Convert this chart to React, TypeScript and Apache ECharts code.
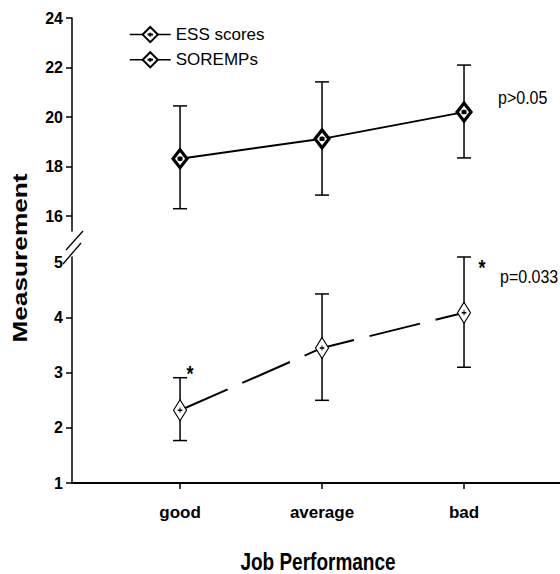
import React, { useEffect, useRef } from 'react';
import * as echarts from 'echarts';

const categories = ['good', 'average', 'bad'];
const categoryPositions = [1, 2, 3];

const essMean = [18.32, 19.12, 20.2];
const essUpper = [20.45, 21.42, 22.1];
const essLower = [16.3, 16.85, 18.35];

const soreMean = [2.32, 3.45, 4.09];
const soreUpper = [2.91, 4.43, 5.1];
const soreLower = [1.77, 2.5, 3.1];

const topTicks = [16, 18, 20, 22, 24];
const bottomTickLabels = [1, 2, 3, 4, 5];
const bottomTicks = [1, 2, 3, 4];

const pTexts = ['p>0.05', 'p=0.033'];

const FONT = '"Liberation Sans", Arial, Helvetica, sans-serif';

const essSymbol = 'path://M0,-10L7,0L0,10L-7,0Z M-2.5,0L2.5,0 M0,-2.5L0,2.5';
const soreSymbol = 'path://M0,-10L7,0L0,10L-7,0Z M-2.5,0L2.5,0 M0,-2.5L0,2.5';

function errorBarRender(params: any, api: any) {
  const x = api.value(0);
  const lo = api.value(1);
  const hi = api.value(2);
  const pLo = api.coord([x, lo]);
  const pHi = api.coord([x, hi]);
  const cap = 7;
  const style = { stroke: '#000', lineWidth: 1.5 };
  return {
    type: 'group',
    children: [
      { type: 'line', shape: { x1: pHi[0], y1: pHi[1], x2: pLo[0], y2: pLo[1] }, style },
      { type: 'line', shape: { x1: pHi[0] - cap, y1: pHi[1], x2: pHi[0] + cap, y2: pHi[1] }, style },
      { type: 'line', shape: { x1: pLo[0] - cap, y1: pLo[1], x2: pLo[0] + cap, y2: pLo[1] }, style },
    ],
  };
}

export default function App() {
  const ref = useRef<HTMLDivElement>(null);
  useEffect(() => {
    if (!ref.current) return;
    const chart = echarts.init(ref.current, undefined, { renderer: 'svg' });
    const xMin = 0.239;
    const xMax = 3.676;
    const yLabelStyle = { color: '#000', fontFamily: FONT, fontSize: 16, fontWeight: 'bold' as const, margin: 9 };
    const option: any = {
      animation: false,
      backgroundColor: '#fff',
      grid: [
        { left: 72, right: 0, top: 18, height: 213 },
        { left: 72, right: 0, top: 257, height: 226 },
      ],
      xAxis: [
        { type: 'value', gridIndex: 0, min: xMin, max: xMax, show: false },
        {
          type: 'value', gridIndex: 1, min: xMin, max: xMax,
          splitLine: { show: false },
          axisLine: { show: true, lineStyle: { color: '#000', width: 2 } },
          axisTick: { show: true, customValues: categoryPositions, length: 6, lineStyle: { color: '#000', width: 1.5 } },
          axisLabel: {
            customValues: categoryPositions,
            formatter: (v: number) => categories[Math.round(v) - 1] ?? '',
            color: '#000', fontFamily: FONT, fontSize: 17, fontWeight: 'bold', margin: 21,
          },
        },
      ],
      yAxis: [
        {
          type: 'value', gridIndex: 0, min: 15.4, max: 24,
          splitLine: { show: false },
          axisLine: { show: true, lineStyle: { color: '#000', width: 1.5 } },
          axisTick: { show: true, customValues: topTicks, length: 6, lineStyle: { color: '#000', width: 1.5 } },
          axisLabel: { ...yLabelStyle, customValues: topTicks },
        },
        {
          type: 'value', gridIndex: 1, min: 1, max: 5.1,
          splitLine: { show: false },
          axisLine: { show: true, lineStyle: { color: '#000', width: 1.5 } },
          axisTick: { show: true, customValues: bottomTicks, length: 6, lineStyle: { color: '#000', width: 1.5 } },
          axisLabel: { ...yLabelStyle, customValues: bottomTickLabels },
        },
      ],
      legend: {
        orient: 'vertical', left: 124, top: 21, itemWidth: 41, itemHeight: 19, itemGap: 8,
        data: ['ESS scores', 'SOREMPs'],
        textStyle: { color: '#000', fontFamily: FONT, fontSize: 17 },
        lineStyle: { type: 'solid', width: 1.5 },
      },
      series: [
        {
          type: 'custom', name: 'essErr', xAxisIndex: 0, yAxisIndex: 0, z: 1,
          renderItem: errorBarRender,
          encode: { x: 0, y: [1, 2] },
          data: categoryPositions.map((x, i) => [x, essLower[i], essUpper[i]]),
        },
        {
          type: 'custom', name: 'soreErr', xAxisIndex: 1, yAxisIndex: 1, z: 1,
          renderItem: errorBarRender,
          encode: { x: 0, y: [1, 2] },
          data: categoryPositions.map((x, i) => [x, soreLower[i], soreUpper[i]]),
        },
        {
          type: 'line', name: 'ESS scores', xAxisIndex: 0, yAxisIndex: 0, z: 3,
          data: categoryPositions.map((x, i) => [x, essMean[i]]),
          symbol: essSymbol, symbolSize: [14, 18],
          lineStyle: { color: '#000', width: 2 },
          itemStyle: { color: '#fff', borderColor: '#000', borderWidth: 3.2 },
        },
        {
          type: 'line', name: 'SOREMPs', xAxisIndex: 1, yAxisIndex: 1, z: 3,
          data: categoryPositions.map((x, i) => [x, soreMean[i]]),
          symbol: soreSymbol, symbolSize: [13, 21],
          lineStyle: { color: '#000', width: 2, type: [52, 16] },
          itemStyle: { color: '#fff', borderColor: '#000', borderWidth: 1.2 },
        },
      ],
      graphic: [
        {
          type: 'text', x: 19, y: 258, rotation: Math.PI / 2, scaleX: 1.25,
          style: { text: 'Measurement', font: `bold 21px ${FONT}`, fill: '#000', align: 'center', verticalAlign: 'middle' },
        },
        {
          type: 'text', x: 318, y: 562, scaleY: 1.25,
          style: { text: 'Job Performance', font: `bold 19px ${FONT}`, fill: '#000', align: 'center', verticalAlign: 'middle' },
        },
        { type: 'line', shape: { x1: 83, y1: 231, x2: 66, y2: 250 }, style: { stroke: '#000', lineWidth: 1.3 } },
        { type: 'line', shape: { x1: 81, y1: 243, x2: 63, y2: 264 }, style: { stroke: '#000', lineWidth: 1.3 } },
      ],
    };
    chart.setOption(option);

    const essBad = chart.convertToPixel({ gridIndex: 0 }, [categoryPositions[2], essMean[2]]) as number[];
    const soreBadUp = chart.convertToPixel({ gridIndex: 1 }, [categoryPositions[2], soreUpper[2]]) as number[];
    const soreGoodUp = chart.convertToPixel({ gridIndex: 1 }, [categoryPositions[0], soreUpper[0]]) as number[];
    const extra = [
      {
        type: 'text', x: soreGoodUp[0] + 10, y: soreGoodUp[1] - 4, scaleY: 1.2,
        style: { text: '*', font: `bold 18px ${FONT}`, fill: '#000', align: 'center', verticalAlign: 'middle' },
      },
      {
        type: 'text', x: soreBadUp[0] + 18, y: soreBadUp[1] + 10, scaleY: 1.2,
        style: { text: '*', font: `bold 18px ${FONT}`, fill: '#000', align: 'center', verticalAlign: 'middle' },
      },
      {
        type: 'text', x: essBad[0] + 34, y: essBad[1] - 15, scaleY: 1.2,
        style: { text: pTexts[0], font: `16px ${FONT}`, fill: '#000', align: 'left', verticalAlign: 'middle' },
      },
      {
        type: 'text', x: soreBadUp[0] + 36, y: soreBadUp[1] + 19, scaleY: 1.2,
        style: { text: pTexts[1], font: `16px ${FONT}`, fill: '#000', align: 'left', verticalAlign: 'middle' },
      },
    ];
    chart.setOption({ graphic: [...option.graphic, ...extra] });

    return () => chart.dispose();
  }, []);
  return <div ref={ref} style={{ position: 'fixed', left: 0, top: 0, width: 560, height: 574 }} />;
}
